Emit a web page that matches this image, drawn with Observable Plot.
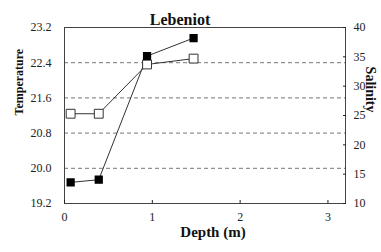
<!DOCTYPE html>
<html><head><meta charset="utf-8">
<script src="https://cdn.jsdelivr.net/npm/d3@7"></script>
<script src="https://cdn.jsdelivr.net/npm/@observablehq/plot@0.6"></script>
<style>body{margin:0;background:#fff} svg, svg text, svg g{font-family:'Liberation Serif', serif !important;}</style>
</head><body><div id="c"></div>
<script>
const title = "Lebeniot";
const depth = [0.07, 0.39, 0.94, 1.47];
const temperature = [19.68, 19.74, 22.55, 22.96];
const salinity = [25.3, 25.3, 33.7, 34.7];
const tempTicks = [19.2, 20.0, 20.8, 21.6, 22.4, 23.2];
const salTicks = [10, 15, 20, 25, 30, 35, 40];
const gridTicks = [20.0, 20.8, 21.6, 22.4];
const xTicks = [0, 1, 2, 3];

const tMin = 19.2, tMax = 23.2, sMin = 10, sMax = 40;
const s2t = s => tMin + (s - sMin) / (sMax - sMin) * (tMax - tMin);
const t2s = t => sMin + (t - tMin) / (tMax - tMin) * (sMax - sMin);

const tData = depth.map((d, i) => ({depth: d, v: temperature[i]}));
const sData = depth.map((d, i) => ({depth: d, v: s2t(salinity[i])}));

const font = "Liberation Serif";
const chart = Plot.plot({
  width: 381, height: 252,
  marginLeft: 64, marginRight: 36, marginTop: 27, marginBottom: 49,
  style: {fontFamily: font, fontSize: "12px", color: "#222", background: "#fff"},
  x: {domain: [0, 3.2]},
  y: {domain: [tMin, tMax]},
  marks: [
    Plot.ruleY(gridTicks, {stroke: "#777", strokeDasharray: "4,3", strokeWidth: 1}),
    Plot.frame({stroke: "#444", strokeWidth: 1}),
    Plot.axisY({ticks: tempTicks, tickSize: 0, tickPadding: 13, tickFormat: d => d.toFixed(1), label: null, fontSize: 12, fontFamily: font, fill: "#222"}),
    Plot.axisY({anchor: "right", ticks: salTicks.map(s2t), tickSize: -3, tickPadding: 11, tickFormat: t => String(Math.round(t2s(t))), label: null, fontSize: 12, fontFamily: font, fill: "#222"}),
    Plot.axisX({ticks: xTicks, tickSize: -3, tickPadding: 12, tickFormat: d => String(d), label: null, fontSize: 12, fontFamily: font, fill: "#222"}),
    Plot.line(tData, {x: "depth", y: "v", stroke: "#333", strokeWidth: 1}),
    Plot.line(sData, {x: "depth", y: "v", stroke: "#333", strokeWidth: 1}),
    Plot.dot(sData, {x: "depth", y: "v", symbol: "square", r: 5, fill: "#fff", stroke: "#333", strokeWidth: 1}),
    Plot.dot(tData, {x: "depth", y: "v", symbol: "square", r: 3.8, fill: "#000", stroke: "#000"}),
    Plot.text([title], {frameAnchor: "top", dx: -25, dy: -14, fontWeight: "bold", fontSize: 16, fontFamily: font, fill: "#111"}),
    Plot.text(["Temperature"], {frameAnchor: "left", dx: -45, rotate: -90, fontWeight: "bold", fontSize: 12, fontFamily: font, fill: "#111"}),
    Plot.text(["Salinity"], {frameAnchor: "right", dx: 25, dy: -3, rotate: 90, fontWeight: "bold", fontSize: 14, fontFamily: font, fill: "#111"}),
    Plot.text(["Depth (m)"], {frameAnchor: "bottom", dx: 8, dy: 33, fontWeight: "bold", fontSize: 15, fontFamily: font, fill: "#111"})
  ]
});
document.getElementById("c").appendChild(chart);
</script>
</body></html>
